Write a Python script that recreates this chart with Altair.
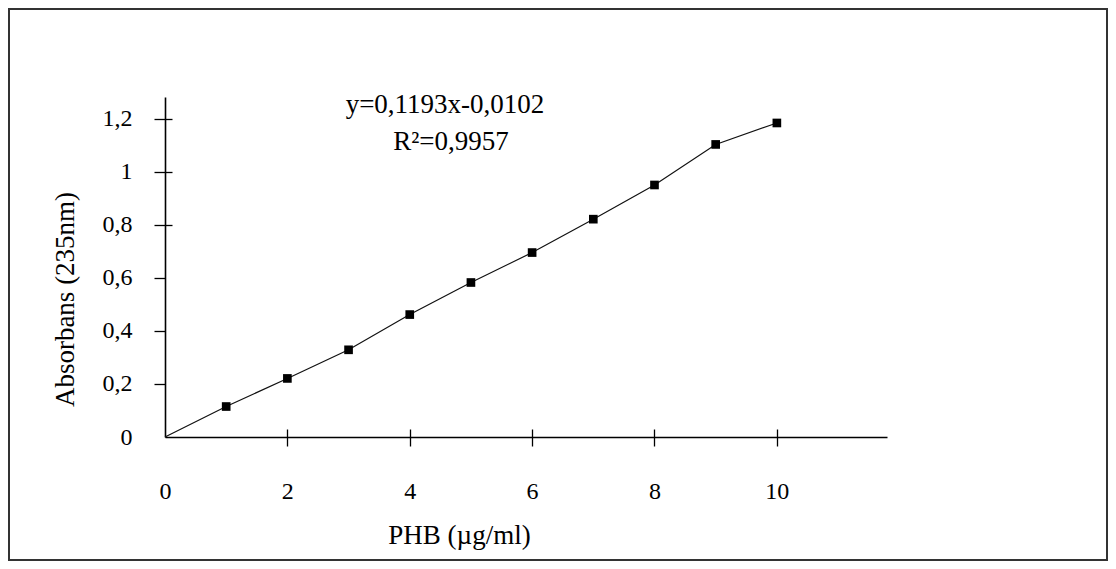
import altair as alt
import pandas as pd

# ---- data ----
concentration = [1, 2, 3, 4, 5, 6, 7, 8, 9, 10]          # PHB (µg/ml)
absorbance = [0.115, 0.221, 0.329, 0.462, 0.583, 0.696, 0.822, 0.951, 1.104, 1.185]
origin_x = [0]
origin_y = [0]
x_ticks = [0, 2, 4, 6, 8, 10]
y_ticks = [0, 0.2, 0.4, 0.6, 0.8, 1, 1.2]
y_inner_ticks = [0.8, 1, 1.2]
x_inner_ticks = [2, 4, 6, 8, 10]
eq_line1 = "y=0,1193x-0,0102"
eq_line2 = "R\u00b2=0,9957"
x_title = "PHB (\u00b5g/ml)"
y_title = "Absorbans (235nm)"

FONT = "Liberation Serif"
W, H = 722, 340
PAD = {"left": 157, "top": 89, "right": 221, "bottom": 124}

pts = pd.DataFrame({"x": concentration, "y": absorbance})
line_df = pd.DataFrame({"x": origin_x + concentration, "y": origin_y + absorbance})

xs = alt.Scale(domain=[0, 11.8], nice=False, zero=False)
ys = alt.Scale(domain=[0, 1.283], nice=False, zero=False)

comma = "replace(format(datum.value, '~g'), '.', ',')"

main_x = alt.Axis(
    orient="bottom", values=x_ticks, title=x_title, grid=False, labelFlush=False,
    tickSize=9, tickColor="black", tickWidth=1.3,
    tickOpacity={"condition": {"test": "datum.value == 0", "value": 0}, "value": 1},
    labelPadding=33, labelFontSize=24, labelFont=FONT, labelColor="black",
    domainColor="black", domainWidth=1.6,
    titleFont=FONT, titleFontSize=27, titleFontWeight="normal", titleColor="black",
    titleX=294, titleY=106, titleBaseline="alphabetic", titleAnchor="start", titleAlign="center",
)
main_y = alt.Axis(
    orient="left", values=y_ticks, title=y_title, grid=False, labelExpr=comma,
    labelFlush=False,
    tickSize=11, tickColor="black", tickWidth=1.3,
    tickOpacity={"condition": {"test": "datum.value == 0", "value": 0}, "value": 1},
    labelPadding=22, labelFontSize=24, labelFont=FONT, labelColor="black",
    domainColor="black", domainWidth=1.6,
    titleFont=FONT, titleFontSize=27, titleFontWeight="normal", titleColor="black",
    titleX=-100, titleY=202, titleAngle=-90, titleAlign="center", titleBaseline="middle",
    titleAnchor="start",
)
inner_x = alt.Axis(
    orient="top", offset=-H, values=x_inner_ticks, title=None, labels=False,
    domain=False, grid=False, tickSize=8, tickColor="black", tickWidth=1.3,
)
inner_y = alt.Axis(
    orient="right", offset=-W, values=y_inner_ticks, title=None, labels=False,
    domain=False, grid=False, tickSize=7, tickColor="black", tickWidth=1.3,
)

line = alt.Chart(line_df).mark_line(color="#111111", strokeWidth=1.2).encode(
    x=alt.X("x:Q", scale=xs, axis=main_x),
    y=alt.Y("y:Q", scale=ys, axis=main_y),
)

points = alt.Chart(pts).mark_point(
    shape="square", filled=True, color="black", size=75, opacity=1
).encode(
    x=alt.X("x:Q", scale=xs, axis=inner_x),
    y=alt.Y("y:Q", scale=ys, axis=inner_y),
)

eq_df = pd.DataFrame({"t": [eq_line1]})
eq2_df = pd.DataFrame({"t": [eq_line2]})
eq1 = alt.Chart(eq_df).mark_text(
    font=FONT, fontSize=27, color="black", align="center", baseline="alphabetic"
).encode(text="t:N", x=alt.value(280), y=alt.value(16))
eq2 = alt.Chart(eq2_df).mark_text(
    font=FONT, fontSize=27, color="black", align="center", baseline="alphabetic"
).encode(text="t:N", x=alt.value(286), y=alt.value(53))

frame = alt.Chart(pd.DataFrame({"k": [1]})).mark_rect(
    fill=None, stroke="#333333", strokeWidth=2
).encode(
    x=alt.value(-156), x2=alt.value(W + PAD["right"] - 1),
    y=alt.value(-88), y2=alt.value(H + PAD["bottom"] - 1),
)

chart = alt.layer(frame, line, points, eq1, eq2).resolve_axis(
    x="independent", y="independent"
).properties(
    width=W, height=H,
    autosize=alt.AutoSizeParams(type="none"),
    padding=PAD,
    background="white",
).configure_view(stroke=None)

chart.save("out.html", embed_options={"renderer": "svg", "actions": False})
